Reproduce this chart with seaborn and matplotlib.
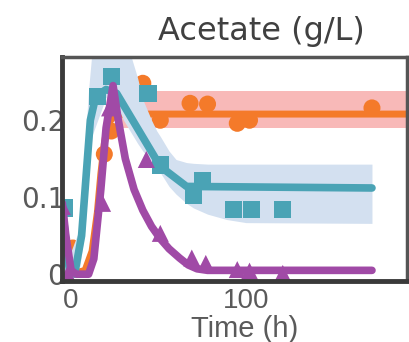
import numpy as np
import pandas as pd
import matplotlib
matplotlib.use("Agg")
import matplotlib.pyplot as plt
import seaborn as sns

# Measured acetate concentrations (g/L) for three strains
orange_t = [1, 19, 23, 41, 51, 68, 78, 95, 102, 172]
orange_v = [0.034, 0.156, 0.186, 0.248, 0.200, 0.222, 0.221, 0.196, 0.200, 0.216]

teal_t = [-4, 15, 23, 44, 51, 70, 75, 93, 103, 121]
teal_v = [0.086, 0.231, 0.257, 0.235, 0.142, 0.102, 0.122, 0.084, 0.084, 0.084]

purple_t = [-5, -2, 18, 22, 43, 51, 69, 77, 95, 102, 121]
purple_v = [0.088, 0.0, 0.092, 0.216, 0.149, 0.053, 0.021, 0.014, 0.006, 0.004, 0.001]

# Model fits with their uncertainty envelopes
orange_fit_t = [0, 8, 12, 15, 17, 19, 21, 25, 30, 192]
orange_fit_v = [0.0, 0.005, 0.03, 0.08, 0.13, 0.17, 0.195, 0.207, 0.208, 0.208]
orange_band_t = [25, 192]
orange_lo_v = [0.190, 0.190]
orange_hi_v = [0.238, 0.238]

teal_fit_t = [-5, -1, 2, 6, 11, 14, 20, 26, 51, 66, 172]
teal_fit_v = [0.085, 0.005, 0.0, 0.05, 0.20, 0.23, 0.24, 0.235, 0.14, 0.114, 0.112]
teal_band_t = [-5, 0, 5, 8, 10, 12, 20, 26, 30, 34, 38, 41, 46, 49, 51, 56, 60, 66, 70, 78, 89, 100, 172]
teal_lo_v = [0.06, 0.0, 0.01, 0.06, 0.13, 0.18, 0.23, 0.22, 0.20, 0.185, 0.17, 0.16, 0.147, 0.14, 0.132, 0.114, 0.104, 0.092, 0.086, 0.078, 0.071, 0.067, 0.066]
teal_hi_v = [0.10, 0.03, 0.06, 0.17, 0.24, 0.29, 0.29, 0.29, 0.29, 0.285, 0.255, 0.227, 0.20, 0.186, 0.179, 0.16, 0.149, 0.145, 0.144, 0.143, 0.143, 0.143, 0.143]

purple_fit_t = [-5, -3, 0, 3, 10, 13, 17, 20, 24, 27, 31, 36, 41, 46, 51, 56, 62, 67, 72, 78, 172]
purple_fit_v = [0.092, 0.05, 0.005, 0.0, 0.0, 0.02, 0.11, 0.19, 0.245, 0.20, 0.15, 0.11, 0.083, 0.062, 0.046, 0.033, 0.021, 0.012, 0.007, 0.005, 0.005]

x_ticks = [0, 100]
y_ticks = [0, 0.1, 0.2]
y_tick_labels = ["0", "0.1", "0.2"]

c_orange = "#F47A2A"
c_orange_band = "#F8B9B8"
c_teal = "#4AA3B5"
c_teal_band = "#D3E0F0"
c_purple = "#A04AA6"

sns.set_style("white")
plt.rcParams["font.family"] = ["Liberation Sans", "DejaVu Sans"]

fig = plt.figure(figsize=(4.09, 3.42), dpi=100)
ax = fig.add_axes([0.152, 0.178, 0.843, 0.655])

# Envelopes, fitted curves and measurements, drawn back to front
ax.fill_between(orange_band_t, orange_lo_v, orange_hi_v, color=c_orange_band, lw=0, zorder=1)

orange_fit = pd.DataFrame({"t": orange_fit_t, "v": orange_fit_v})
sns.lineplot(data=orange_fit, x="t", y="v", color=c_orange, lw=5, ax=ax, zorder=2, sort=False)
sns.scatterplot(x=orange_t, y=orange_v, color=c_orange, marker="o", s=150, edgecolor="none", ax=ax, zorder=3)

ax.fill_between(teal_band_t, teal_lo_v, teal_hi_v, color=c_teal_band, lw=0, zorder=4)

teal_fit = pd.DataFrame({"t": teal_fit_t, "v": teal_fit_v})
sns.lineplot(data=teal_fit, x="t", y="v", color=c_teal, lw=5.5, ax=ax, zorder=5, sort=False)
sns.scatterplot(x=teal_t, y=teal_v, color=c_teal, marker="s", s=155, edgecolor="none", ax=ax, zorder=6)

purple_fit = pd.DataFrame({"t": purple_fit_t, "v": purple_fit_v})
sns.lineplot(data=purple_fit, x="t", y="v", color=c_purple, lw=5.5, ax=ax, zorder=7, sort=False)
sns.scatterplot(x=purple_t, y=purple_v, color=c_purple, marker="^", s=150, edgecolor="none", ax=ax, zorder=8)

ax.set_xlim(-5.1, 192)
ax.set_ylim(-0.009, 0.282)
ax.set_xticks(x_ticks)
ax.set_yticks(y_ticks)
ax.set_yticklabels(y_tick_labels, fontfamily="DejaVu Sans")
ax.set_xlabel("")
ax.set_ylabel("")
ax.tick_params(axis="both", labelsize=20, colors="#333333", labelcolor="#5a5a5a",
               length=3, width=1.5, direction="in")
ax.tick_params(axis="y", pad=-2)
ax.tick_params(axis="x", pad=5)

for side in ["left", "bottom"]:
    ax.spines[side].set_color("#3a3a3a")
    ax.spines[side].set_linewidth(3.5)
for side in ["top", "right"]:
    ax.spines[side].set_color("#555555")
    ax.spines[side].set_linewidth(2.5)
for sp in ax.spines.values():
    sp.set_zorder(10)

ax.text(0.577, 1.076, "Acetate (g/L)", transform=ax.transAxes, ha="center", va="baseline",
        fontsize=23, color="#404040", family="DejaVu Sans")
ax.text(0.530, -0.25, "Time (h)", transform=ax.transAxes, ha="center", va="baseline",
        fontsize=21, color="#5a5a5a")

fig.savefig("out.png", dpi=100, facecolor="white")
